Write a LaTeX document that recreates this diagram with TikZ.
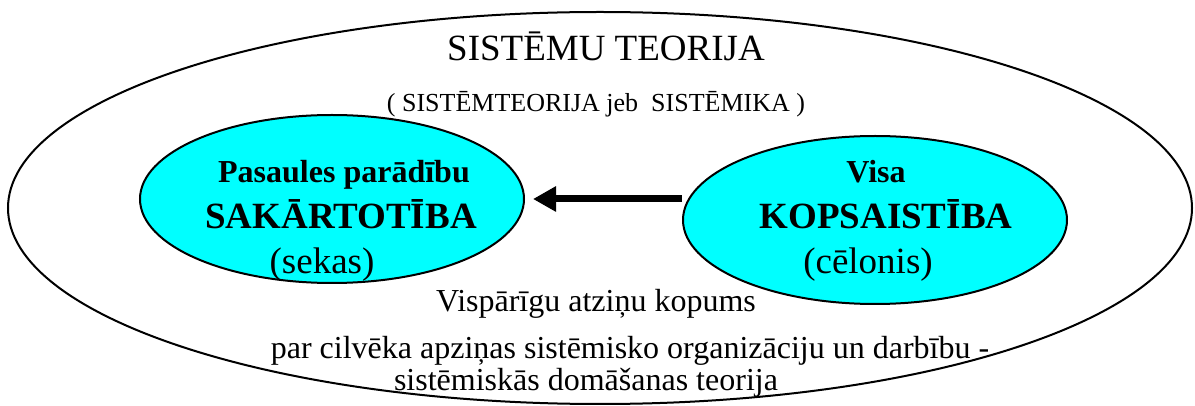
\documentclass[tikz,border=0pt]{standalone}
\usepackage{fontspec}
\setmainfont{Liberation Serif}
\usetikzlibrary{arrows.meta,shapes.geometric}
\definecolor{aqua}{RGB}{0,255,255}

\tikzset{
	oval/.style={draw=black,line width=1pt,ellipse,inner sep=0pt},
	cyanoval/.style={oval,fill=aqua,minimum width=192pt,minimum height=84pt},
	label/.style={inner sep=0pt,anchor=base},
	bigtitle/.style={label,font=\fontsize{18.5}{22}\selectfont},
	subtitle/.style={label,font=\fontsize{13}{16}\selectfont},
	boldsmall/.style={label,font=\fontsize{16}{19}\selectfont\bfseries},
	boldbig/.style={label,font=\fontsize{18.5}{22}\selectfont\bfseries},
	paren/.style={label,font=\fontsize{18.5}{22}\selectfont},
	bottomline/.style={label,font=\fontsize{16}{19}\selectfont},
	bigarrow/.style={line width=3.5pt,-{Triangle[length=11.5pt,width=12pt]}}
}

\begin{document}
\begin{tikzpicture}[x=0.5pt,y=-0.5pt]
	%%%%% START %%%%%
	\useasboundingbox (0,0) rectangle (1195,406);

	% outer oval
	\node[oval,minimum width=592pt,minimum height=196pt] (teorija) at (600,208) {};
	\node[bigtitle] (title) at (606,61) {SISTĒMU TEORIJA};
	\node[subtitle] (subtitle) at (596,112) {( SISTĒMTEORIJA jeb\ \ SISTĒMIKA )};

	% inner ovals
	\node[cyanoval] (sakartotiba) at (332,199) {};
	\node[cyanoval] (kopsaistiba) at (875,220) {};

	\node[boldsmall] (pasaules) at (344,183) {Pasaules parādību};
	\node[boldbig] (sak) at (341,229) {SAKĀRTOTĪBA};
	\node[paren] (sekas) at (322,274) {(sekas)};

	\node[boldsmall] (visa) at (876,183) {Visa};
	\node[boldbig] (kop) at (886,229) {KOPSAISTĪBA};
	\node[paren] (celonis) at (868,274) {(cēlonis)};

	\draw[bigarrow,shorten >=4pt] (sakartotiba.east -| kopsaistiba.west) -- (sakartotiba.east);

	% bottom text
	\node[bottomline] (line1) at (596,312) {Vispārīgu atziņu kopums};
	\node[bottomline] (line2) at (630,359) {par cilvēka apziņas sistēmisko organizāciju un darbību -};
	\node[bottomline] (line3) at (586,391) {sistēmiskās domāšanas teorija};
	%%%%% END %%%%%
\end{tikzpicture}
\end{document}
